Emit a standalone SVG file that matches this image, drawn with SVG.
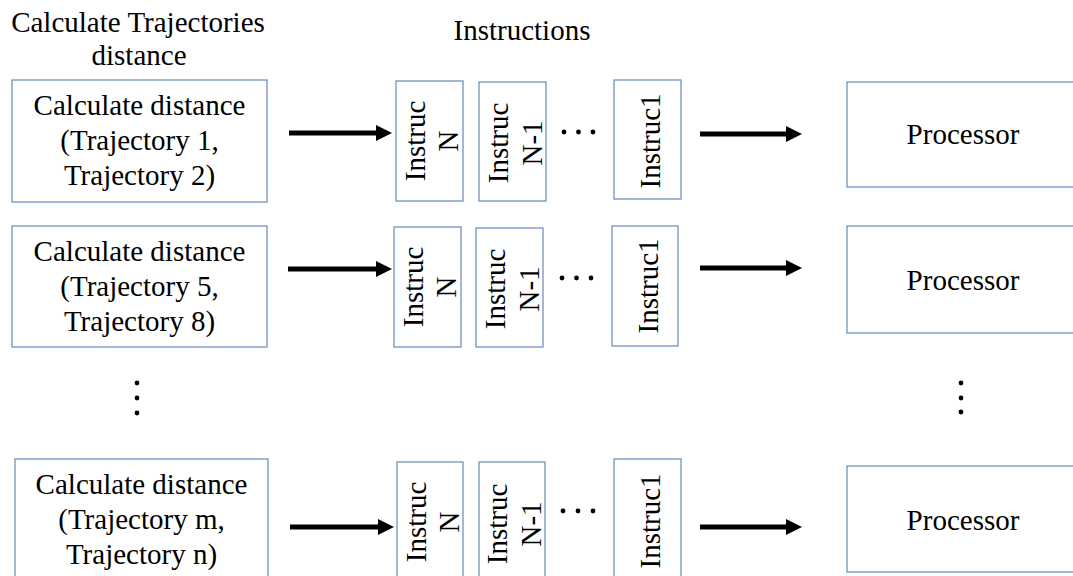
<svg xmlns="http://www.w3.org/2000/svg" width="1073" height="576" viewBox="0 0 1073 576">
  <style>
    .box { fill: #ffffff; stroke: #7392bf; stroke-width: 1.3; }
    .t { font-size: 29px; fill: #000000; text-anchor: middle; }
    .arrow { stroke: #000000; stroke-width: 5; fill: none; marker-end: url(#head); }
    .dot { fill: #000000; }
  </style>
  <defs>
    <marker id="head" markerUnits="userSpaceOnUse" markerWidth="18" markerHeight="18" refX="1" refY="8" orient="auto">
      <path d="M0,0 L16,8 L0,16 Z" fill="#000000"/>
    </marker>
  </defs>

  <rect width="1073" height="576" fill="#ffffff"/>

  <g font-family="Liberation Serif, DejaVu Serif, serif">
  <!-- column headings -->
  <g id="heading-tasks">
    <text class="t" x="138" y="32">Calculate Trajectories</text>
    <text class="t" x="139" y="65">distance</text>
  </g>
  <g id="heading-instructions">
    <text class="t" x="522" y="40">Instructions</text>
  </g>

  <!-- row 1 -->
  <g id="task-1">
    <rect class="box" x="12" y="80" width="255" height="122"/>
    <text class="t" x="139.5" y="115">Calculate distance</text>
    <text class="t" x="139.5" y="150">(Trajectory 1,</text>
    <text class="t" x="139.5" y="185">Trajectory 2)</text>
  </g>
  <g id="instr-1-n">
    <rect class="box" x="396" y="81" width="67" height="120"/>
    <text class="t" transform="rotate(-90 429.5 141)" x="429.5" y="136.5">Instruc</text>
    <text class="t" transform="rotate(-90 429.5 141)" x="429.5" y="169.5">N</text>
  </g>
  <g id="instr-1-n1">
    <rect class="box" x="479" y="82" width="67" height="119"/>
    <text class="t" transform="rotate(-90 512.5 143)" x="512.5" y="138">Instruc</text>
    <text class="t" transform="rotate(-90 512.5 143)" x="512.5" y="172">N-1</text>
  </g>
  <g id="instr-1-gap">
    <circle class="dot" cx="564" cy="132" r="2.4"/>
    <circle class="dot" cx="578.5" cy="132" r="2.4"/>
    <circle class="dot" cx="593" cy="132" r="2.4"/>
  </g>
  <g id="instr-1-1">
    <rect class="box" x="614" y="80" width="67" height="119"/>
    <text class="t" transform="rotate(-90 647.5 141)" x="647.5" y="153.5">Instruc1</text>
  </g>
  <g id="processor-1">
    <rect class="box" x="847" y="82" width="230" height="105"/>
    <text class="t" x="963" y="144">Processor</text>
  </g>

  <!-- row 2 -->
  <g id="task-2">
    <rect class="box" x="12" y="226" width="255" height="121"/>
    <text class="t" x="139.5" y="261">Calculate distance</text>
    <text class="t" x="139.5" y="296">(Trajectory 5,</text>
    <text class="t" x="139.5" y="331">Trajectory 8)</text>
  </g>
  <g id="instr-2-n">
    <rect class="box" x="394" y="227" width="67" height="120"/>
    <text class="t" transform="rotate(-90 427.5 287)" x="427.5" y="282.5">Instruc</text>
    <text class="t" transform="rotate(-90 427.5 287)" x="427.5" y="315.5">N</text>
  </g>
  <g id="instr-2-n1">
    <rect class="box" x="476" y="228" width="67" height="119"/>
    <text class="t" transform="rotate(-90 509.5 289)" x="509.5" y="284">Instruc</text>
    <text class="t" transform="rotate(-90 509.5 289)" x="509.5" y="318">N-1</text>
  </g>
  <g id="instr-2-gap">
    <circle class="dot" cx="562" cy="278" r="2.4"/>
    <circle class="dot" cx="576.5" cy="278" r="2.4"/>
    <circle class="dot" cx="591" cy="278" r="2.4"/>
  </g>
  <g id="instr-2-1">
    <rect class="box" x="612" y="226" width="66" height="120"/>
    <text class="t" transform="rotate(-90 645 286)" x="645" y="298.5">Instruc1</text>
  </g>
  <g id="processor-2">
    <rect class="box" x="847" y="226" width="230" height="107"/>
    <text class="t" x="963" y="290">Processor</text>
  </g>

  <!-- rows omitted between 2 and m -->
  <g id="ellipsis-left">
    <circle class="dot" cx="137" cy="383" r="2.4"/>
    <circle class="dot" cx="137" cy="398" r="2.4"/>
    <circle class="dot" cx="137" cy="413" r="2.4"/>
  </g>
  <g id="ellipsis-right">
    <circle class="dot" cx="961" cy="383" r="2.4"/>
    <circle class="dot" cx="961" cy="398" r="2.4"/>
    <circle class="dot" cx="961" cy="412" r="2.4"/>
  </g>

  <!-- row m -->
  <g id="task-m">
    <rect class="box" x="15" y="459" width="253" height="130"/>
    <text class="t" x="141.5" y="494">Calculate distance</text>
    <text class="t" x="141.5" y="529">(Trajectory m,</text>
    <text class="t" x="141.5" y="564">Trajectory n)</text>
  </g>
  <g id="instr-m-n">
    <rect class="box" x="397" y="462" width="66" height="125"/>
    <text class="t" transform="rotate(-90 430 522)" x="430" y="517.5">Instruc</text>
    <text class="t" transform="rotate(-90 430 522)" x="430" y="550.5">N</text>
  </g>
  <g id="instr-m-n1">
    <rect class="box" x="479" y="462" width="66" height="125"/>
    <text class="t" transform="rotate(-90 512 524)" x="512" y="519">Instruc</text>
    <text class="t" transform="rotate(-90 512 524)" x="512" y="553">N-1</text>
  </g>
  <g id="instr-m-gap">
    <circle class="dot" cx="563" cy="511" r="2.4"/>
    <circle class="dot" cx="578" cy="511" r="2.4"/>
    <circle class="dot" cx="593" cy="511" r="2.4"/>
  </g>
  <g id="instr-m-1">
    <rect class="box" x="614" y="459" width="67" height="128"/>
    <text class="t" transform="rotate(-90 647.5 521)" x="647.5" y="533.5">Instruc1</text>
  </g>
  <g id="processor-m">
    <rect class="box" x="847" y="466" width="230" height="106"/>
    <text class="t" x="963" y="530">Processor</text>
  </g>
  </g>

  <!-- connectors -->
  <g id="connectors">
    <line class="arrow" x1="289" y1="133" x2="377" y2="133"/>
    <line class="arrow" x1="700" y1="134" x2="787" y2="134"/>
    <line class="arrow" x1="288" y1="269" x2="377" y2="269"/>
    <line class="arrow" x1="700" y1="268" x2="787" y2="268"/>
    <line class="arrow" x1="290" y1="527" x2="379" y2="527"/>
    <line class="arrow" x1="700" y1="527" x2="787" y2="527"/>
  </g>
</svg>
